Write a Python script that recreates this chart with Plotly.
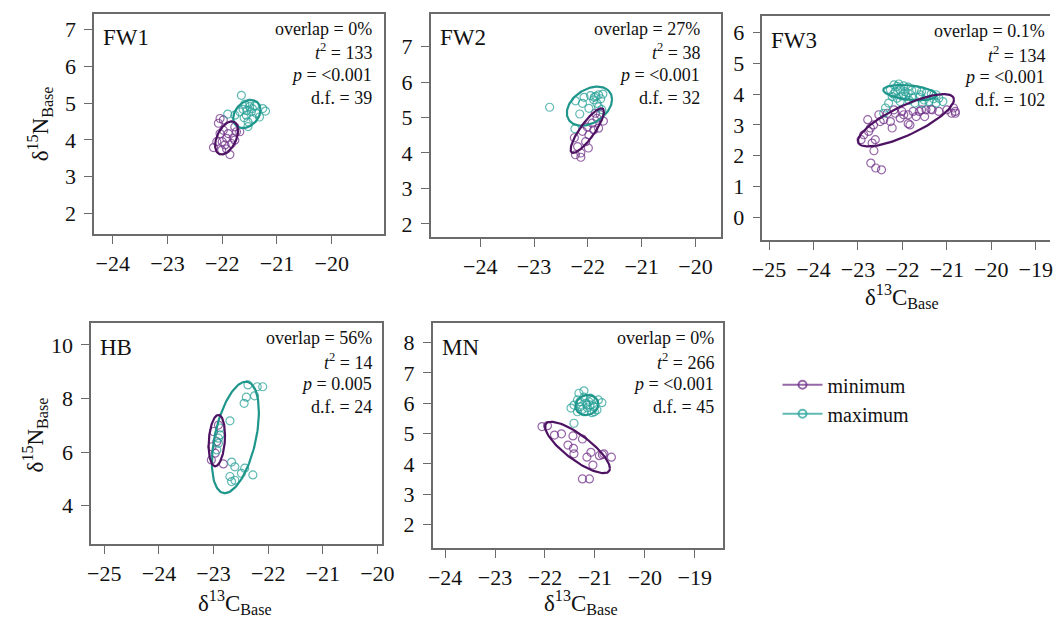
import numpy as np
import plotly.graph_objects as go

# ---------------- data ----------------
panels = ["FW1", "FW2", "FW3", "HB", "MN"]

fw1_min_x = [-22.07, -21.98, -21.77, -21.74, -22.16, -22.10, -21.86, -22.01, -21.92, -21.89,
             -21.83, -21.95, -22.04, -21.77, -21.98, -22.04, -21.68, -21.92, -21.80, -22.00]
fw1_min_y = [4.45, 4.54, 4.35, 4.22, 3.79, 3.95, 3.60, 3.72, 4.04, 4.17,
             3.90, 3.86, 4.17, 3.99, 4.26, 4.58, 4.22, 3.75, 4.05, 3.95]
fw1_max_x = [-21.65, -21.26, -21.21, -21.59, -21.50, -21.41, -21.68, -21.56, -21.77, -21.90,
             -21.53, -21.53, -21.38, -21.62, -21.47, -21.32, -21.44, -21.55, -21.45, -21.60, -21.50]
fw1_max_y = [5.21, 4.85, 4.78, 4.97, 4.90, 4.92, 4.76, 4.67, 4.67, 4.70,
             4.49, 4.36, 4.72, 4.83, 4.76, 4.62, 4.58, 4.80, 4.85, 4.60, 5.00]

fw2_min_x = [-22.23, -22.13, -22.19, -22.25, -22.10, -22.01, -21.92, -21.83, -21.77, -21.89,
             -21.80, -21.98, -22.13, -22.04, -21.86, -21.71, -21.99]
fw2_min_y = [3.95, 3.88, 4.18, 4.43, 4.61, 4.73, 4.84, 4.98, 5.08, 4.65,
             4.70, 4.51, 4.00, 4.32, 5.12, 4.90, 4.14]
fw2_max_x = [-22.71, -22.07, -21.95, -21.89, -21.80, -21.72, -21.76, -21.83, -22.23, -21.98,
             -22.24, -21.74, -21.88, -21.85, -22.10, -21.80, -22.15]
fw2_max_y = [5.29, 5.57, 5.62, 5.50, 5.64, 5.66, 5.53, 5.40, 5.47, 5.26,
             4.68, 5.22, 5.57, 5.60, 5.40, 5.30, 5.10]

fw3_min_x = [-22.71, -22.60, -22.47, -22.64, -22.93, -22.87, -22.76, -22.72, -22.65, -22.61,
             -22.68, -22.50, -22.53, -22.42, -22.27, -22.34, -22.16, -22.01, -21.87, -21.87,
             -22.05, -21.69, -21.62, -21.47, -21.33, -21.18, -21.00, -20.89, -20.85, -20.81,
             -21.50, -21.76, -22.78, -22.23, -21.83, -21.57, -21.36, -20.81, -21.97, -22.19]
fw3_min_y = [1.76, 1.60, 1.54, 2.16, 2.52, 2.68, 2.79, 2.90, 3.00, 2.52,
             2.41, 3.11, 3.33, 3.17, 3.11, 3.38, 3.38, 3.44, 3.33, 3.04,
             3.22, 3.27, 3.44, 3.49, 3.49, 3.44, 3.49, 3.38, 3.55, 3.44,
             3.27, 3.44, 3.17, 2.90, 3.00, 3.49, 3.51, 3.38, 3.33, 3.49]
fw3_max_x = [-22.19, -22.08, -21.97, -21.87, -22.27, -22.16, -22.05, -21.94, -21.79, -21.68,
             -21.57, -21.46, -21.35, -21.24, -22.23, -22.12, -22.01, -21.92, -21.77, -21.62,
             -21.51, -21.40, -22.31, -22.38, -22.42, -21.24, -21.09, -21.55, -21.72, -22.05,
             -21.87, -22.12, -21.18, -21.98, -21.60, -21.30, -22.20, -21.85]
fw3_max_y = [4.30, 4.33, 4.27, 4.23, 4.14, 4.08, 4.14, 4.08, 4.12, 4.14,
             4.08, 4.05, 4.01, 3.98, 3.92, 3.87, 3.94, 3.92, 3.87, 3.90,
             3.81, 3.76, 3.71, 3.55, 3.38, 3.71, 3.76, 3.71, 3.71, 3.76,
             4.03, 4.25, 3.87, 4.00, 3.98, 3.85, 4.00, 3.80]

hb_min_x = [-23.00, -22.97, -23.04, -22.82, -22.94, -22.91, -23.03]
hb_min_y = [6.77, 5.96, 5.71, 5.56, 6.39, 7.01, 6.20]
hb_max_x = [-22.37, -22.20, -22.10, -22.25, -22.40, -22.44, -22.70, -22.88, -22.91, -22.91,
            -22.88, -22.94, -22.67, -22.61, -22.43, -22.49, -22.28, -22.70, -22.67, -22.61]
hb_max_y = [8.51, 8.44, 8.44, 8.10, 8.05, 7.82, 7.17, 6.90, 6.52, 6.33,
            6.64, 6.08, 5.63, 5.45, 5.40, 5.21, 5.15, 5.09, 4.90, 4.95]

mn_min_x = [-22.06, -21.95, -21.81, -21.67, -21.44, -21.25, -21.54, -21.43, -21.42, -21.16,
            -21.08, -21.04, -20.91, -20.82, -20.67, -21.25, -21.11, -20.85]
mn_min_y = [5.23, 5.26, 4.95, 4.99, 4.92, 4.82, 4.62, 4.51, 4.33, 4.22,
            4.38, 3.96, 4.27, 4.33, 4.22, 3.50, 3.50, 4.30]
mn_max_x = [-21.32, -21.35, -21.22, -21.09, -20.93, -20.86, -21.42, -21.29, -21.16, -21.03,
            -21.35, -21.22, -21.06, -20.96, -21.42, -21.48, -21.12, -21.22, -21.01, -21.18,
            -21.25, -21.10, -21.30, -21.15, -21.05]
mn_max_y = [6.33, 6.11, 6.20, 6.17, 6.11, 6.02, 5.94, 5.89, 5.94, 5.89,
            5.72, 5.72, 5.69, 5.78, 5.34, 5.84, 6.05, 6.41, 5.72, 6.00,
            5.80, 5.95, 6.05, 5.85, 6.10]

# standard ellipse parameters: centre x, centre y, sd x, sd y, correlation
ell_min_cx = [-21.92, -22.01, -21.92, -22.94, -21.35]
ell_min_cy = [4.05, 4.63, 3.15, 6.43, 4.54]
ell_min_sx = [0.21, 0.31, 1.08, 0.15, 0.65]
ell_min_sy = [0.45, 0.63, 0.85, 0.96, 0.85]
ell_min_r = [0.45, 0.85, 0.79, 0.20, -0.81]
ell_max_cx = [-21.55, -21.97, -21.83, -22.60, -21.16]
ell_max_cy = [4.70, 5.32, 4.05, 6.55, 5.94]
ell_max_sx = [0.25, 0.42, 0.60, 0.43, 0.23]
ell_max_sy = [0.38, 0.55, 0.25, 2.08, 0.33]
ell_max_r = [0.30, 0.35, -0.35, 0.45, 0.10]

overlap = ["0%", "27%", "0.1%", "56%", "0%"]
t2 = ["133", "38", "134", "14", "266"]
pval = ["<0.001", "<0.001", "<0.001", "0.005", "<0.001"]
dof = ["39", "32", "102", "24", "45"]

xticks = [[-24, -23, -22, -21, -20], [-24, -23, -22, -21, -20],
          [-25, -24, -23, -22, -21, -20, -19], [-25, -24, -23, -22, -21, -20],
          [-24, -23, -22, -21, -20, -19]]
yticks = [[2, 3, 4, 5, 6, 7], [2, 3, 4, 5, 6, 7], [0, 1, 2, 3, 4, 5, 6],
          [4, 6, 8, 10], [2, 3, 4, 5, 6, 7, 8]]

groups = ["minimum", "maximum"]

pts_min = [(fw1_min_x, fw1_min_y), (fw2_min_x, fw2_min_y), (fw3_min_x, fw3_min_y),
           (hb_min_x, hb_min_y), (mn_min_x, mn_min_y)]
pts_max = [(fw1_max_x, fw1_max_y), (fw2_max_x, fw2_max_y), (fw3_max_x, fw3_max_y),
           (hb_max_x, hb_max_y), (mn_max_x, mn_max_y)]

# ---------------- layout / style ----------------
W, H = 1063, 621
# box in pixels: left, top, right, bottom
boxes = [(86, 14, 382, 234), (430, 14, 727, 237), (769, 16, 1063, 240),
         (83, 323, 380, 544), (432, 323, 729, 548)]
xranges = [[-24.34, -19.05], [-24.92, -19.52], [-25.15, -18.68], [-25.24, -19.92], [-24.25, -18.43]]
yranges = [[1.44, 7.42], [1.63, 7.92], [-0.74, 6.54], [2.57, 10.82], [1.22, 8.65]]

FONT = "Liberation Serif, Times New Roman, serif"
C_MIN_LINE = "#4e1263"
C_MAX_LINE = "#1f968b"
C_MIN_PT = "rgba(110,45,135,0.72)"
C_MAX_PT = "rgba(35,160,150,0.72)"
AX_COL = "#6b6b6b"


def ellipse(cx, cy, sx, sy, r, n=120):
    t = np.linspace(0, 2 * np.pi, n)
    x = cx + sx * np.cos(t)
    y = cy + sy * (r * np.cos(t) + np.sqrt(1 - r * r) * np.sin(t))
    return x, y


fig = go.Figure()
layout = dict(
    width=W, height=H, margin=dict(l=0, r=0, t=0, b=0),
    paper_bgcolor="white", plot_bgcolor="white",
    font=dict(family=FONT, color="#111"),
    showlegend=True,
    legend=dict(x=0.738, y=0.357, xanchor="left", yanchor="middle",
                font=dict(family=FONT, size=20, color="#111"),
                bgcolor="rgba(0,0,0,0)", tracegroupgap=0, itemwidth=40),
)
annotations = []

for i, name in enumerate(panels):
    k = "" if i == 0 else str(i + 1)
    xa, ya = "x" + k, "y" + k
    l, t, r, b = boxes[i]
    layout["xaxis" + k] = dict(
        domain=[l / W, r / W], range=xranges[i], anchor=ya,
        tickvals=xticks[i], ticks="outside", ticklen=8, tickwidth=1.3, tickcolor=AX_COL,
        showline=True, linecolor=AX_COL, linewidth=1.5, mirror=True,
        showgrid=False, zeroline=False, ticklabelstandoff=1,
        tickfont=dict(family=FONT, size=22, color="#111"))
    layout["yaxis" + k] = dict(
        domain=[1 - b / H, 1 - t / H], range=yranges[i], anchor=xa,
        tickvals=yticks[i], ticks="outside", ticklen=8, tickwidth=1.3, tickcolor=AX_COL,
        showline=True, linecolor=AX_COL, linewidth=1.5, mirror=(i != 2),
        showgrid=False, zeroline=False, ticklabelstandoff=4,
        tickfont=dict(family=FONT, size=22, color="#111"))

    # points
    for (px, py), col in ((pts_min[i], C_MIN_PT), (pts_max[i], C_MAX_PT)):
        fig.add_trace(go.Scatter(x=px, y=py, xaxis=xa, yaxis=ya, mode="markers",
                                 marker=dict(symbol="circle-open", size=8, color=col,
                                             line=dict(width=1.2)),
                                 showlegend=False, hoverinfo="skip"))
    # ellipses
    ex, ey = ellipse(ell_max_cx[i], ell_max_cy[i], ell_max_sx[i], ell_max_sy[i], ell_max_r[i])
    fig.add_trace(go.Scatter(x=ex, y=ey, xaxis=xa, yaxis=ya, mode="lines",
                             line=dict(color=C_MAX_LINE, width=2.2),
                             showlegend=False, hoverinfo="skip"))
    ex, ey = ellipse(ell_min_cx[i], ell_min_cy[i], ell_min_sx[i], ell_min_sy[i], ell_min_r[i])
    fig.add_trace(go.Scatter(x=ex, y=ey, xaxis=xa, yaxis=ya, mode="lines",
                             line=dict(color=C_MIN_LINE, width=2.2),
                             showlegend=False, hoverinfo="skip"))

    # panel label
    annotations.append(dict(text=name, xref=xa + " domain", yref=ya + " domain", x=0, y=1,
                            xanchor="left", yanchor="middle", xshift=7, yshift=-24,
                            showarrow=False, font=dict(family=FONT, size=23, color="#111")))
    # stats
    lines = ["overlap = " + overlap[i], "<i>t</i><sup>2</sup> = " + t2[i],
             "<i>p</i> = " + pval[i], "d.f. = " + dof[i]]
    rshift = {0: -10, 1: -19, 2: -3, 3: -8, 4: -7}[i]
    for j, txt in enumerate(lines):
        annotations.append(dict(text=txt, xref=xa + " domain", yref=ya + " domain", x=1, y=1,
                                xanchor="right", yanchor="middle", xshift=rshift,
                                yshift=-(15 + 23 * j), showarrow=False,
                                font=dict(family=FONT, size=18, color="#111")))

# axis titles
ytitle = "δ<sup>15</sup>N<sub>Base</sub>"
xtitle = "δ<sup>13</sup>C<sub>Base</sub>"
for (cx, cy) in [(30, 124), (25, 435)]:
    annotations.append(dict(text=ytitle, xref="paper", yref="paper", x=cx / W, y=1 - cy / H,
                            xanchor="center", yanchor="middle", textangle=-90, showarrow=False,
                            font=dict(family=FONT, size=23, color="#111")))
for (cx, cy) in [(912, 296), (230, 602), (584, 602)]:
    annotations.append(dict(text=xtitle, xref="paper", yref="paper", x=cx / W, y=1 - cy / H,
                            xanchor="center", yanchor="middle", showarrow=False,
                            font=dict(family=FONT, size=23, color="#111")))

# legend entries
for g, col in zip(groups, [C_MIN_PT, C_MAX_PT]):
    fig.add_trace(go.Scatter(x=[None], y=[None], mode="lines+markers", name=g,
                             line=dict(color=col, width=2),
                             marker=dict(symbol="circle-open", size=8, color=col,
                                         line=dict(width=2))))

layout["annotations"] = annotations
fig.update_layout(**layout)
fig.write_html("out.html")
